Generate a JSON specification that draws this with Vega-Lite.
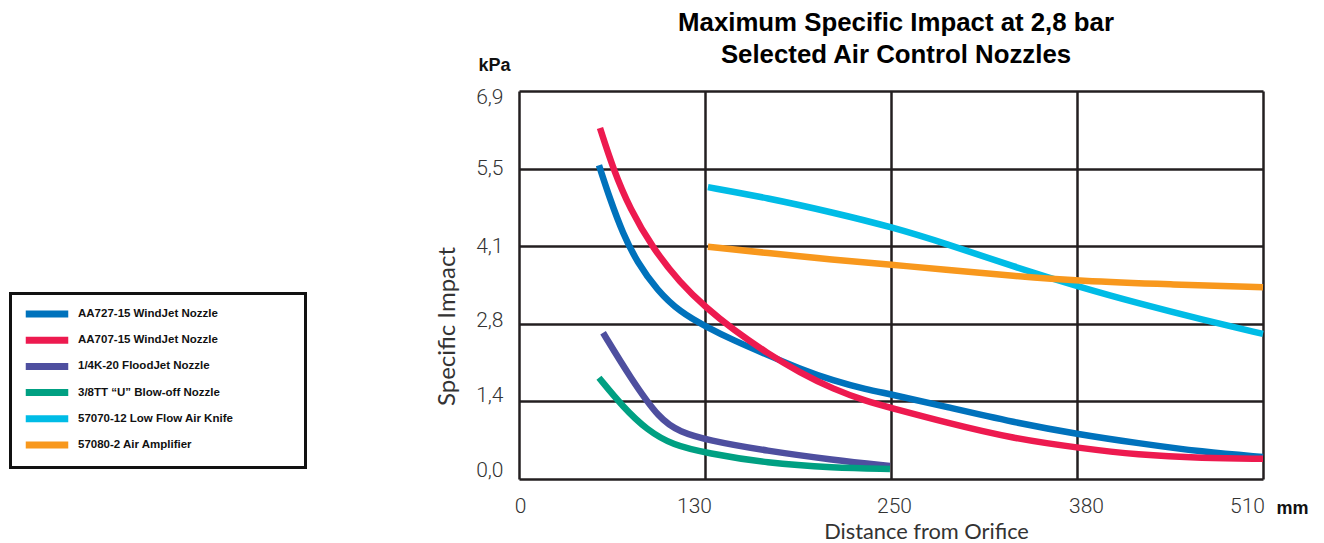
{
  "$schema": "https://vega.github.io/schema/vega-lite/v6.json",
  "autosize": {"type": "none"},
  "width": 744,
  "height": 388,
  "padding": {"left": 519, "top": 91, "right": 61, "bottom": 64},
  "background": "white",
  "title": {
    "text": ["Maximum Specific Impact at 2,8 bar", "Selected Air Control Nozzles"],
    "font": "Liberation Sans",
    "fontSize": 25.8,
    "fontWeight": "bold",
    "color": "#000000",
    "lineHeight": 32,
    "anchor": "middle",
    "frame": "group",
    "offset": -13,
    "dx": 5
  },
  "config": {
    "view": {"stroke": null},
    "axis": {"gridColor": "#231f20", "gridWidth": 2.5, "gridOpacity": 1},
    "legend": {"strokeWidth": 3}
  },
  "datasets": {
    "curves": [
      {"s": "AA727-15 WindJet Nozzle", "d": 54.6, "v": 5.58},
      {"s": "AA727-15 WindJet Nozzle", "d": 62.1, "v": 4.98},
      {"s": "AA727-15 WindJet Nozzle", "d": 71.0, "v": 4.36},
      {"s": "AA727-15 WindJet Nozzle", "d": 80.6, "v": 3.86},
      {"s": "AA727-15 WindJet Nozzle", "d": 94.2, "v": 3.36},
      {"s": "AA727-15 WindJet Nozzle", "d": 109.9, "v": 2.97},
      {"s": "AA727-15 WindJet Nozzle", "d": 128.4, "v": 2.70},
      {"s": "AA727-15 WindJet Nozzle", "d": 146.1, "v": 2.47},
      {"s": "AA727-15 WindJet Nozzle", "d": 169.3, "v": 2.21},
      {"s": "AA727-15 WindJet Nozzle", "d": 191.8, "v": 1.96},
      {"s": "AA727-15 WindJet Nozzle", "d": 214.4, "v": 1.75},
      {"s": "AA727-15 WindJet Nozzle", "d": 237.6, "v": 1.59},
      {"s": "AA727-15 WindJet Nozzle", "d": 253.3, "v": 1.51},
      {"s": "AA727-15 WindJet Nozzle", "d": 292.2, "v": 1.28},
      {"s": "AA727-15 WindJet Nozzle", "d": 337.3, "v": 1.01},
      {"s": "AA727-15 WindJet Nozzle", "d": 383.1, "v": 0.79},
      {"s": "AA727-15 WindJet Nozzle", "d": 422.0, "v": 0.64},
      {"s": "AA727-15 WindJet Nozzle", "d": 467.0, "v": 0.48},
      {"s": "AA727-15 WindJet Nozzle", "d": 508.0, "v": 0.39},
      {"s": "AA707-15 WindJet Nozzle", "d": 55.3, "v": 6.24},
      {"s": "AA707-15 WindJet Nozzle", "d": 64.2, "v": 5.52},
      {"s": "AA707-15 WindJet Nozzle", "d": 75.8, "v": 4.80},
      {"s": "AA707-15 WindJet Nozzle", "d": 91.5, "v": 4.10},
      {"s": "AA707-15 WindJet Nozzle", "d": 109.9, "v": 3.49},
      {"s": "AA707-15 WindJet Nozzle", "d": 128.4, "v": 3.03},
      {"s": "AA707-15 WindJet Nozzle", "d": 146.1, "v": 2.66},
      {"s": "AA707-15 WindJet Nozzle", "d": 169.3, "v": 2.24},
      {"s": "AA707-15 WindJet Nozzle", "d": 191.8, "v": 1.89},
      {"s": "AA707-15 WindJet Nozzle", "d": 214.4, "v": 1.60},
      {"s": "AA707-15 WindJet Nozzle", "d": 237.6, "v": 1.38},
      {"s": "AA707-15 WindJet Nozzle", "d": 253.3, "v": 1.27},
      {"s": "AA707-15 WindJet Nozzle", "d": 292.2, "v": 1.00},
      {"s": "AA707-15 WindJet Nozzle", "d": 337.3, "v": 0.72},
      {"s": "AA707-15 WindJet Nozzle", "d": 383.1, "v": 0.55},
      {"s": "AA707-15 WindJet Nozzle", "d": 422.0, "v": 0.43},
      {"s": "AA707-15 WindJet Nozzle", "d": 467.0, "v": 0.37},
      {"s": "AA707-15 WindJet Nozzle", "d": 508.0, "v": 0.36},
      {"s": "1/4K-20 FloodJet Nozzle", "d": 57.4, "v": 2.60},
      {"s": "1/4K-20 FloodJet Nozzle", "d": 75.8, "v": 1.81},
      {"s": "1/4K-20 FloodJet Nozzle", "d": 96.3, "v": 1.05},
      {"s": "1/4K-20 FloodJet Nozzle", "d": 109.9, "v": 0.84},
      {"s": "1/4K-20 FloodJet Nozzle", "d": 128.4, "v": 0.69},
      {"s": "1/4K-20 FloodJet Nozzle", "d": 169.3, "v": 0.50},
      {"s": "1/4K-20 FloodJet Nozzle", "d": 214.4, "v": 0.34},
      {"s": "1/4K-20 FloodJet Nozzle", "d": 253.3, "v": 0.23},
      {"s": "3/8TT \u201cU\u201d Blow-off Nozzle", "d": 54.6, "v": 1.80},
      {"s": "3/8TT \u201cU\u201d Blow-off Nozzle", "d": 71.0, "v": 1.28},
      {"s": "3/8TT \u201cU\u201d Blow-off Nozzle", "d": 87.4, "v": 0.87},
      {"s": "3/8TT \u201cU\u201d Blow-off Nozzle", "d": 105.2, "v": 0.60},
      {"s": "3/8TT \u201cU\u201d Blow-off Nozzle", "d": 128.4, "v": 0.46},
      {"s": "3/8TT \u201cU\u201d Blow-off Nozzle", "d": 169.3, "v": 0.28},
      {"s": "3/8TT \u201cU\u201d Blow-off Nozzle", "d": 214.4, "v": 0.20},
      {"s": "3/8TT \u201cU\u201d Blow-off Nozzle", "d": 253.3, "v": 0.18},
      {"s": "57070-12 Low Flow Air Knife", "d": 129.0, "v": 5.19},
      {"s": "57070-12 Low Flow Air Knife", "d": 169.3, "v": 5.00},
      {"s": "57070-12 Low Flow Air Knife", "d": 214.4, "v": 4.74},
      {"s": "57070-12 Low Flow Air Knife", "d": 254.7, "v": 4.48},
      {"s": "57070-12 Low Flow Air Knife", "d": 292.2, "v": 4.18},
      {"s": "57070-12 Low Flow Air Knife", "d": 337.3, "v": 3.78},
      {"s": "57070-12 Low Flow Air Knife", "d": 383.1, "v": 3.41},
      {"s": "57070-12 Low Flow Air Knife", "d": 422.0, "v": 3.13},
      {"s": "57070-12 Low Flow Air Knife", "d": 467.0, "v": 2.83},
      {"s": "57070-12 Low Flow Air Knife", "d": 508.0, "v": 2.58},
      {"s": "57080-2 Air Amplifier", "d": 129.0, "v": 4.13},
      {"s": "57080-2 Air Amplifier", "d": 169.3, "v": 4.02},
      {"s": "57080-2 Air Amplifier", "d": 214.4, "v": 3.90},
      {"s": "57080-2 Air Amplifier", "d": 254.7, "v": 3.81},
      {"s": "57080-2 Air Amplifier", "d": 292.2, "v": 3.72},
      {"s": "57080-2 Air Amplifier", "d": 337.3, "v": 3.61},
      {"s": "57080-2 Air Amplifier", "d": 383.1, "v": 3.52},
      {"s": "57080-2 Air Amplifier", "d": 444.5, "v": 3.46},
      {"s": "57080-2 Air Amplifier", "d": 508.0, "v": 3.41}
    ]
  },
  "data": {"name": "curves"},
  "layer": [
    {
      "mark": {"type": "line", "strokeWidth": 6.5, "strokeCap": "butt", "interpolate": "basis"},
      "encoding": {
        "x": {
          "field": "d", "type": "quantitative",
          "scale": {"domain": [0, 508], "nice": false, "zero": false},
          "axis": {
            "values": [0, 127, 254, 381, 508],
            "labelExpr": "datum.value == 127 ? '130' : datum.value == 254 ? '250' : datum.value == 381 ? '380' : datum.value == 508 ? '510' : '0'",
            "grid": true, "domain": false, "ticks": false,
            "labelFont": "Roboto", "labelFontWeight": 300, "labelFontSize": 21, "labelColor": "#333333",
            "labelPadding": 16, "labelFlush": false,
            "labelOffset": {
              "condition": [
                {"test": "datum.value == 127", "value": -11},
                {"test": "datum.value == 254", "value": 3},
                {"test": "datum.value == 381", "value": 9},
                {"test": "datum.value == 508", "value": -16}
              ],
              "value": 1
            },
            "title": "Distance from Orifice",
            "titleFont": "Lato", "titleFontSize": 21.8, "titleFontWeight": "normal", "titleColor": "#333333",
            "titleX": 407, "titleY": 59, "titleBaseline": "alphabetic", "titleAlign": "center"
          }
        },
        "y": {
          "field": "v", "type": "quantitative",
          "scale": {"domain": [0, 6.9], "nice": false},
          "axis": {
            "values": [0, 1.38, 2.76, 4.14, 5.52, 6.9],
            "labelExpr": "replace(format(datum.value, '.1f'), '.', ',')",
            "grid": true, "domain": false, "ticks": false,
            "labelFont": "Roboto", "labelFontWeight": 300, "labelFontSize": 21, "labelColor": "#333333",
            "labelPadding": 16, "labelFlush": false,
            "labelOffset": {
              "condition": [
                {"test": "datum.value == 0", "value": -9},
                {"test": "datum.value == 1.38", "value": -6},
                {"test": "datum.value == 2.76", "value": -3},
                {"test": "datum.value == 6.9", "value": 6}
              ],
              "value": 0
            },
            "title": "Specific Impact",
            "titleFont": "Lato", "titleFontSize": 24, "titleFontWeight": "normal", "titleColor": "#333333",
            "titleX": -65, "titleY": 235, "titleBaseline": "alphabetic", "titleAlign": "center", "titleAngle": -90
          }
        },
        "color": {
          "field": "s", "type": "nominal",
          "scale": {
            "domain": ["AA727-15 WindJet Nozzle", "AA707-15 WindJet Nozzle", "1/4K-20 FloodJet Nozzle", "3/8TT \u201cU\u201d Blow-off Nozzle", "57070-12 Low Flow Air Knife", "57080-2 Air Amplifier"],
            "range": ["#0072bc", "#ed1a4f", "#4e4f9f", "#00a082", "#00bce6", "#f8981d"]
          },
          "legend": {
            "orient": "none", "legendX": -508.5, "legendY": 202.5,
            "title": null,
            "strokeColor": "#111111", "fillColor": "white",
            "padding": 8.5,
            "symbolType": "M-2.5,0H2.5", "symbolSize": 289, "symbolStrokeWidth": 7,
            "symbolOffset": 16,
            "labelOffset": 19, "rowPadding": -1.8,
            "labelFont": "Liberation Sans", "labelFontWeight": "bold", "labelFontSize": 11.5, "labelColor": "#111111",
            "labelLimit": 400,
            "labelExpr": "datum.label + '\u2800\u2800\u2800\u2800\u2800\u2800\u2800'"
          }
        }
      }
    },
    {
      "mark": {"type": "point", "opacity": 0},
      "encoding": {
        "x": {
          "field": "d", "type": "quantitative",
          "scale": {"domain": [0, 508], "nice": false},
          "axis": {
            "orient": "bottom", "labels": false, "ticks": false, "domain": false, "grid": false,
            "title": "mm", "titleFont": "Liberation Sans", "titleFontWeight": "bold", "titleFontSize": 18, "titleColor": "#111111",
            "titleX": 773, "titleY": 29, "titleBaseline": "middle", "titleAlign": "center"
          }
        },
        "y": {
          "field": "v", "type": "quantitative",
          "scale": {"domain": [0, 6.9], "nice": false},
          "axis": {
            "orient": "left", "labels": false, "ticks": false, "domain": false, "grid": false,
            "title": "kPa", "titleFont": "Liberation Sans", "titleFontWeight": "bold", "titleFontSize": 18, "titleColor": "#111111",
            "titleX": -25, "titleY": -26, "titleBaseline": "middle", "titleAlign": "center", "titleAngle": 0
          }
        }
      }
    }
  ],
  "resolve": {"scale": {"x": "independent", "y": "independent"}, "axis": {"x": "independent", "y": "independent"}}
}
